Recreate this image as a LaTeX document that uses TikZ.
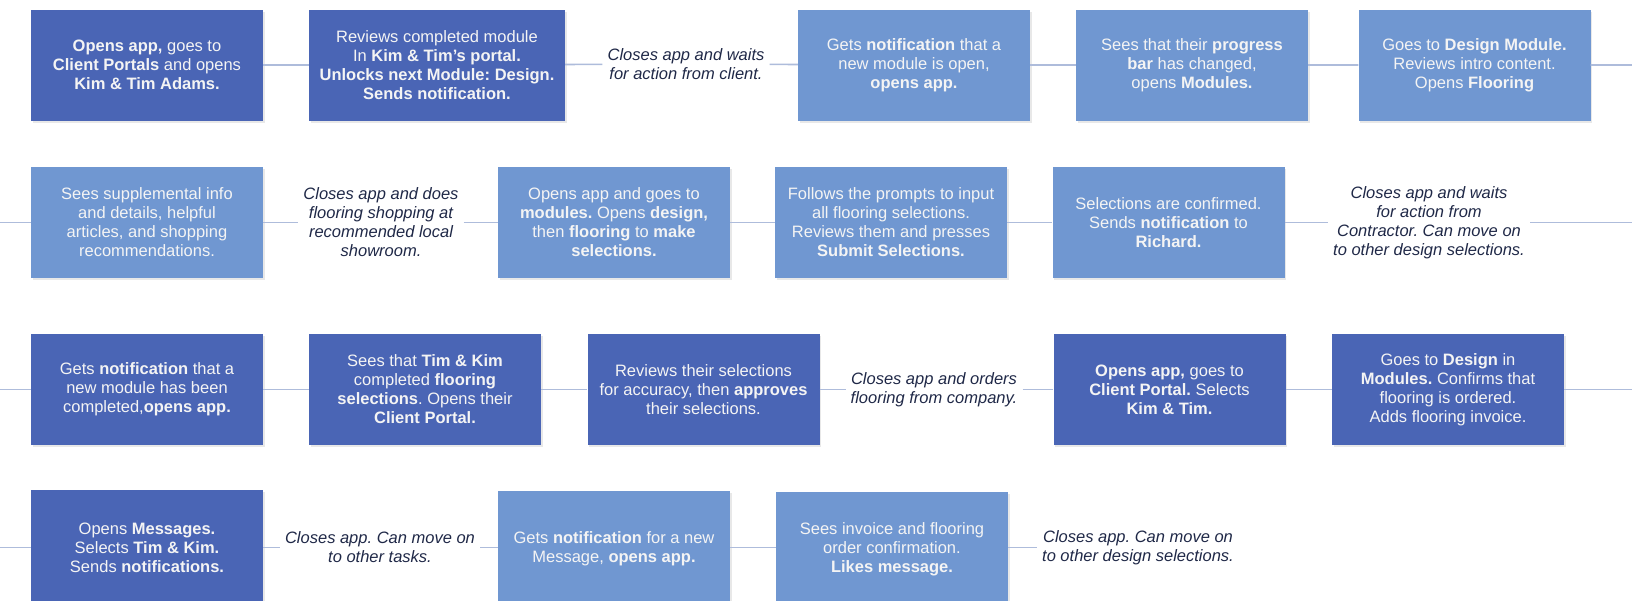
\documentclass[tikz,border=0pt]{standalone}
\usepackage{fontspec}
\setmainfont{Liberation Sans}
\usepackage{xcolor}
\usepackage{tikz}
\usetikzlibrary{shadows}
\frenchspacing

\definecolor{darkstep}{HTML}{4A65B5}
\definecolor{lightstep}{HTML}{7097D1}
\definecolor{linkline}{HTML}{AEBCDB}
\definecolor{notetext}{HTML}{1F2847}
\definecolor{boxtext}{HTML}{F4F4F4}

\begin{document}
\begin{tikzpicture}[x=1pt,y=-1pt,
    stepbox/.style={text=boxtext, minimum width=232pt, minimum height=111pt,
        align=center, inner sep=0pt, font=\fontsize{16.5}{19}\selectfont,
        drop shadow={opacity=0.18, shadow xshift=1.5pt, shadow yshift=-2pt}},
    darkbox/.style={stepbox, fill=darkstep},
    lightbox/.style={stepbox, fill=lightstep},
    note/.style={text=notetext, align=center, inner sep=5pt,
        font=\fontsize{16.5}{19}\selectfont\itshape},
    link/.style={draw=linkline, line width=1.6pt}]
    \useasboundingbox (0,0) rectangle (1632,600);

    % Row 1
    \node[darkbox] (openapp) at (147,65) {\textbf{Opens app,} goes to\\\textbf{Client Portals} and opens\\\textbf{Kim \& Tim Adams.}};
    \node[darkbox, minimum width=256pt] (reviewmod) at (437,65) {Reviews completed module\\In \textbf{Kim \& Tim's portal.}\\\textbf{Unlocks next Module: Design.}\\\textbf{Sends notification.}};
    \node[note] (waitclient) at (686,64) {Closes app and waits\\for action from client.};
    \node[lightbox] (getnotif) at (914,65) {Gets \textbf{notification} that a\\new module is open,\\\textbf{opens app.}};
    \node[lightbox] (seesbar) at (1192,65) {Sees that their \textbf{progress}\\\textbf{bar} has changed,\\opens \textbf{Modules.}};
    \node[lightbox] (goesdesign) at (1474.5,65) {Goes to \textbf{Design Module.}\\Reviews intro content.\\Opens \textbf{Flooring}};
    \coordinate (rowoneend) at (1632,65);

    % Row 2
    \coordinate (rowtwostart) at (0,222.5);
    \node[lightbox] (seesinfo) at (147,222.5) {Sees supplemental info\\and details, helpful\\articles, and shopping\\recommendations.};
    \node[note] (shopping) at (381,222.5) {Closes app and does\\flooring shopping at\\recommended local\\showroom.};
    \node[lightbox] (opensmod) at (614,222.5) {Opens app and goes to\\\textbf{modules.} Opens \textbf{design,}\\then \textbf{flooring} to \textbf{make}\\\textbf{selections.}};
    \node[lightbox] (prompts) at (891,222.5) {Follows the prompts to input\\all flooring selections.\\Reviews them and presses\\\textbf{Submit Selections.}};
    \node[lightbox] (confirmed) at (1168.5,222.5) {Selections are confirmed.\\Sends \textbf{notification} to\\\textbf{Richard.}};
    \node[note] (waitcontr) at (1429,222.5) {Closes app and waits\\for action from\\Contractor. Can move on\\to other design selections.};
    \coordinate (rowtwoend) at (1632,222.5);

    % Row 3
    \coordinate (rowthreestart) at (0,389.5);
    \node[darkbox] (moduledone) at (147,389.5) {Gets \textbf{notification} that a\\new module has been\\completed,\textbf{opens app.}};
    \node[darkbox] (seeskim) at (425,389.5) {Sees that \textbf{Tim \& Kim}\\completed \textbf{flooring}\\\textbf{selections}. Opens their\\\textbf{Client Portal.}};
    \node[darkbox] (approves) at (703.5,389.5) {Reviews their selections\\for accuracy, then \textbf{approves}\\their selections.};
    \node[note] (orders) at (934,389.5) {Closes app and orders\\flooring from company.};
    \node[darkbox] (selectskim) at (1169.5,389.5) {\textbf{Opens app,} goes to\\\textbf{Client Portal.} Selects\\\textbf{Kim \& Tim.}};
    \node[darkbox] (invoice) at (1448,389.5) {Goes to \textbf{Design} in\\\textbf{Modules.} Confirms that\\flooring is ordered.\\Adds flooring invoice.};
    \coordinate (rowthreeend) at (1632,389.5);

    % Row 4
    \coordinate (rowfourstart) at (0,547.5);
    \node[darkbox, minimum height=115pt] (messages) at (147,547.5) {Opens \textbf{Messages.}\\Selects \textbf{Tim \& Kim.}\\Sends \textbf{notifications.}};
    \node[note] (othertasks) at (380,547.5) {Closes app. Can move on\\to other tasks.};
    \node[lightbox, minimum height=115pt] (newmsg) at (614,548.5) {Gets \textbf{notification} for a new\\Message, \textbf{opens app.}};
    \node[lightbox, minimum height=115pt] (likes) at (892,549.5) {Sees invoice and flooring\\order confirmation.\\\textbf{Likes message.}};
    \node[note] (otherdesign) at (1138,547.5) {Closes app. Can move on\\to other design selections.};

    % Connectors
    \draw[link] (openapp) -- (reviewmod) -- (waitclient) -- (getnotif) -- (seesbar) -- (goesdesign) -- (rowoneend);
    \draw[link] (rowtwostart) -- (seesinfo) -- (shopping) -- (opensmod) -- (prompts) -- (confirmed) -- (waitcontr) -- (rowtwoend);
    \draw[link] (rowthreestart) -- (moduledone) -- (seeskim) -- (approves) -- (orders) -- (selectskim) -- (invoice) -- (rowthreeend);
    \draw[link] (rowfourstart) -- (messages) -- (othertasks) -- (newmsg.west |- othertasks);
    \draw[link] (newmsg.east |- othertasks) -- (likes.west |- othertasks);
    \draw[link] (likes.east |- othertasks) -- (otherdesign);
\end{tikzpicture}
\end{document}
